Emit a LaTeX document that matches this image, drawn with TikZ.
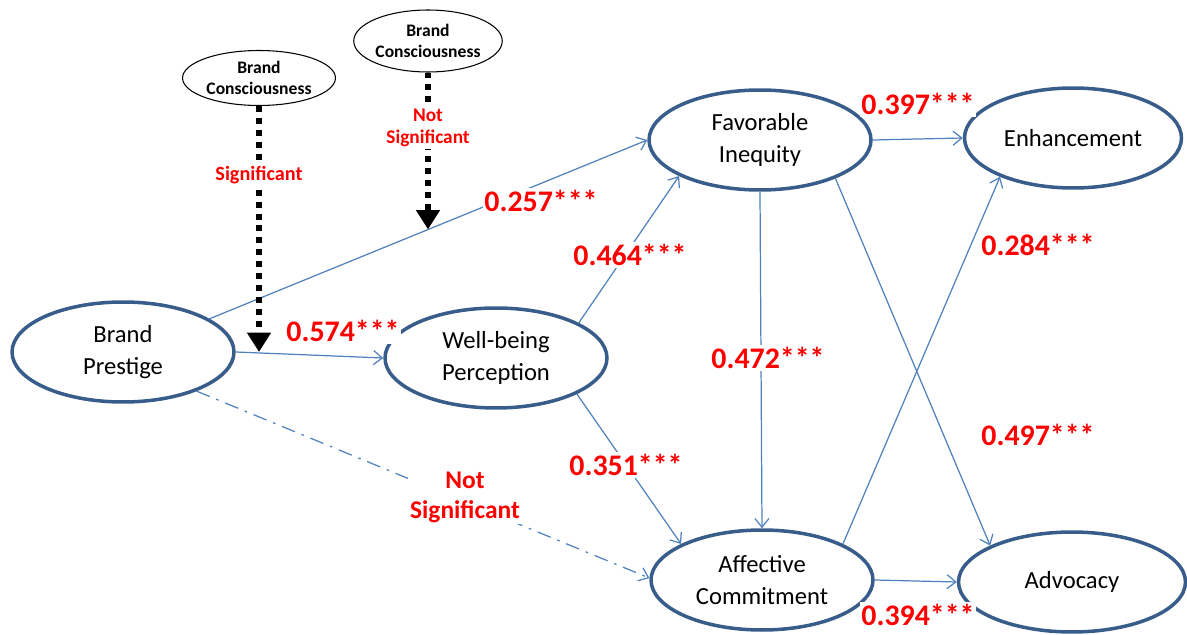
\documentclass[tikz,border=0pt]{standalone}
\usepackage{fontspec}
\setmainfont{Carlito}
\usetikzlibrary{arrows.meta, shapes.geometric}
\definecolor{linkblue}{RGB}{79, 129, 189}
\definecolor{ringblue}{RGB}{56, 93, 138}
\definecolor{sigred}{RGB}{255, 0, 0}

\tikzset{
  construct/.style={ellipse, draw=ringblue, line width=2pt, inner sep=0pt,
    minimum width=4.44cm, minimum height=2cm, align=center,
    font=\fontsize{14}{18}\selectfont},
  moderator/.style={ellipse, draw=black, line width=0.6pt, inner sep=0pt,
    align=center, font=\bfseries\fontsize{10}{12}\selectfont},
  path/.style={draw=linkblue, line width=0.7pt, -{Straight Barb[length=5pt, width=8pt]}},
  weak/.style={path, dash pattern=on 8pt off 4pt on 1.5pt off 4pt},
  effect/.style={draw=black, line width=3.4pt, dash pattern=on 3.4pt off 3.4pt,
    -{Triangle[length=11pt, width=13pt]}},
  coef/.style={fill=white, inner sep=1pt, text=sigred,
    font=\bfseries\fontsize{17}{20}\selectfont},
  note/.style={fill=white, inner sep=1pt, text=sigred, align=center}
}

\begin{document}
\begin{tikzpicture}[x=0.02cm, y=-0.02cm]
    \useasboundingbox (0,0) rectangle (1187,635);

    % Constructs
    \node[construct] (bp) at (123,352) {Brand\\Prestige};
    \node[construct] (wb) at (496,358) {Well-being\\Perception};
    \node[construct] (fi) at (760,140) {Favorable\\Inequity};
    \node[construct, minimum width=4.34cm] (enh) at (1073,138) {Enhancement};
    \node[construct] (ac) at (762,580) {Affective\\Commitment};
    \node[construct, minimum width=4.54cm] (adv) at (1072,582) {Advocacy};

    % Moderators
    \node[moderator, minimum width=3.06cm, minimum height=1.1cm] (bcl) at (259,78) {Brand\\Consciousness};
    \node[moderator, minimum width=2.94cm, minimum height=1.24cm] (bct) at (428,41) {Brand\\Consciousness};

    % Structural paths
    \draw[path] (bp.east) -- (wb.west);
    \draw[path] (bp.21) -- coordinate[pos=0.5] (hit) (fi.west);
    \draw[path] (wb.23) -- (fi.204);
    \draw[path] (wb.336) -- (ac.156);
    \draw[weak] (bp.332) -- (ac.179);
    \draw[path] (fi.east) -- (enh.west);
    \draw[path] (fi.south) -- (ac.north);
    \draw[path] (fi.333) -- (adv.156);
    \draw[path] (ac.24) -- (enh.208);
    \draw[path] (ac.east) -- (adv.west);

    % Moderating effects
    \draw[effect] (bcl.south) -- (bcl.south |- bp.east);
    \draw[effect] (bct.south) -- (bct.south |- hit);

    % Coefficients
    \node[coef] (c1) at (541,201) {0.257***};
    \node[coef] (c2) at (343,331) {0.574***};
    \node[coef] (c3) at (630,255) {0.464***};
    \node[coef] (c4) at (626,465) {0.351***};
    \node[coef] (c5) at (918,104) {0.397***};
    \node[coef] (c6) at (768,358) {0.472***};
    \node[coef] (c7) at (1038,245) {0.284***};
    \node[coef] (c8) at (1038,435) {0.497***};
    \node[coef] (c9) at (918,615) {0.394***};
    \node[note, font=\bfseries\fontsize{14.5}{17}\selectfont] (n1) at (465,497) {Not\\Significant};
    \node[note, font=\bfseries\fontsize{11.5}{13}\selectfont] (n2) at (259,175) {Significant};
    \node[note, font=\bfseries\fontsize{11}{12.5}\selectfont] (n3) at (428,128) {Not\\Significant};
\end{tikzpicture}
\end{document}
